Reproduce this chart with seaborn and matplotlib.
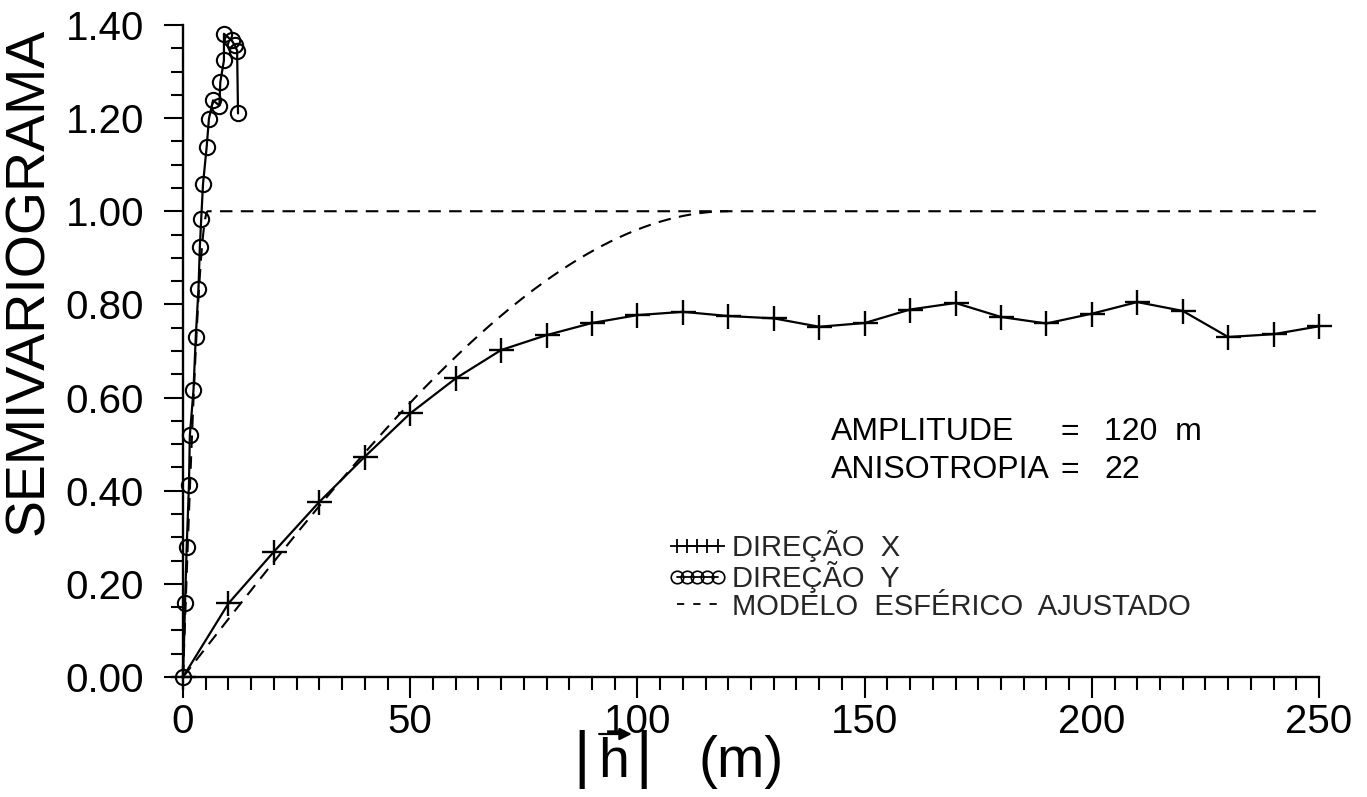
import numpy as np
import pandas as pd
import matplotlib
matplotlib.use("Agg")
import matplotlib.pyplot as plt
from matplotlib.lines import Line2D
from matplotlib.ticker import MultipleLocator, FormatStrFormatter
import seaborn as sns

# Experimental semivariogram, direction X (lag in m)
lag_x = [0, 10, 20, 30, 40, 50, 60, 70, 80, 90, 100, 110, 120, 130, 140,
         150, 160, 170, 180, 190, 200, 210, 220, 230, 240, 250]
gamma_x = [0.0, 0.158, 0.269, 0.376, 0.473, 0.566, 0.641, 0.702, 0.734, 0.760,
           0.777, 0.784, 0.775, 0.770, 0.752, 0.760, 0.789, 0.803, 0.773, 0.759,
           0.780, 0.805, 0.786, 0.730, 0.736, 0.753]

# Experimental semivariogram, direction Y (lag in m)
lag_y = [0.0, 0.44, 0.8, 1.3, 1.5, 2.3, 2.8, 3.4, 3.7, 4.0, 4.4, 5.2, 5.7,
         6.6, 8.0, 8.2, 9.0, 9.0, 10.7, 11.4, 11.9, 12.1]
gamma_y = [0.0, 0.158, 0.278, 0.412, 0.519, 0.616, 0.730, 0.834, 0.923, 0.984,
           1.059, 1.138, 1.199, 1.238, 1.227, 1.277, 1.324, 1.381, 1.367, 1.356,
           1.345, 1.210]

# Fitted spherical model parameters
SILL = 1.0
AMPLITUDE = 120      # range in direction X (m)
ANISOTROPY = 22      # ratio of ranges X / Y

x_ticks = [0, 50, 100, 150, 200, 250]
y_ticks = [0.0, 0.2, 0.4, 0.6, 0.8, 1.0, 1.2, 1.4]


def spherical(h, a, c):
    r = np.clip(h / a, 0, 1)
    return c * (1.5 * r - 0.5 * r ** 3)


sns.set_theme(style="ticks")
FONT = "Liberation Sans"
plt.rcParams["font.family"] = [FONT, "DejaVu Sans"]

fig = plt.figure(figsize=(13.67, 7.97), dpi=100)
ax = fig.add_axes([0.1339, 0.1506, 0.8310, 0.8181])

# Model curves
h_model_x = np.linspace(0, AMPLITUDE, 200)
h_model_y = np.concatenate([np.linspace(0, AMPLITUDE / ANISOTROPY, 60), [250]])
df_mx = pd.DataFrame({"h": h_model_x, "g": spherical(h_model_x, AMPLITUDE, SILL)})
df_my = pd.DataFrame({"h": h_model_y, "g": spherical(h_model_y, AMPLITUDE / ANISOTROPY, SILL)})
for df in (df_mx, df_my):
    sns.lineplot(data=df, x="h", y="g", ax=ax, color="black", lw=1.5,
                 estimator=None, sort=False, legend=False,
                 linestyle=(0, (6, 4)))

# Experimental points
df_x = pd.DataFrame({"h": lag_x, "g": gamma_x})
df_y = pd.DataFrame({"h": lag_y, "g": gamma_y})
sns.lineplot(data=df_x, x="h", y="g", ax=ax, color="black", lw=1.6,
             marker="+", markersize=18, markeredgewidth=1.7,
             markeredgecolor="black", estimator=None, sort=False,
             legend=False, clip_on=False)
sns.lineplot(data=df_y, x="h", y="g", ax=ax, color="black", lw=1.6,
             marker="o", markersize=11, markeredgewidth=1.5,
             markeredgecolor="black", markerfacecolor="none",
             estimator=None, sort=False, legend=False, clip_on=False)

ax.set_xlim(0, 250)
ax.set_ylim(0, 1.40)
ax.set_xticks(x_ticks)
ax.set_yticks(y_ticks)
ax.xaxis.set_minor_locator(MultipleLocator(5))
ax.yaxis.set_minor_locator(MultipleLocator(0.05))
ax.yaxis.set_major_formatter(FormatStrFormatter("%.2f"))
sns.despine(ax=ax)
for side in ("left", "bottom"):
    ax.spines[side].set_linewidth(1.7)
    ax.spines[side].set_color("black")
ax.tick_params(axis="both", which="both", direction="out", color="black",
               width=1.5, labelsize=29, labelcolor="black")
ax.tick_params(axis="x", which="major", length=15, pad=4)
ax.tick_params(axis="x", which="minor", length=9)
ax.tick_params(axis="y", which="major", length=14, pad=14)
ax.tick_params(axis="y", which="minor", length=9)
ax.grid(False)

ax.set_ylabel("SEMIVARIOGRAMA", fontsize=40, color="black", va="center")
ax.yaxis.set_label_coords(-0.136, 0.607)
ax.set_xlabel("")

# Axis title |h| (m), with a vector arrow drawn over the h
BAR_SIZE = 45
XL_SIZE = 40
bar_l = ax.text(0.344, -0.172, "|", transform=ax.transAxes,
                fontsize=BAR_SIZE, va="bottom", ha="left", color="black")
h_txt = ax.annotate("h", xy=(1, 0), xycoords=bar_l, xytext=(6, 0),
                    textcoords="offset points", fontsize=XL_SIZE,
                    va="bottom", ha="left", color="black")
bar_r = ax.annotate("|", xy=(1, 0), xycoords=h_txt, xytext=(4, 0),
                    textcoords="offset points", fontsize=BAR_SIZE,
                    va="bottom", ha="left", color="black")
ax.annotate("(m)", xy=(1, 0), xycoords=bar_r, xytext=(34, 0),
            textcoords="offset points", fontsize=XL_SIZE + 1,
            va="bottom", ha="left", color="black")
ax.annotate("", xy=(1.08, 1.06), xycoords=h_txt, xytext=(0.02, 1.06),
            textcoords=h_txt,
            arrowprops=dict(arrowstyle="-|>", lw=1.6, color="black",
                            mutation_scale=18, shrinkA=0, shrinkB=0))

# Model parameters annotation
for yy, name, val in ((0.375, "AMPLITUDE", f"{AMPLITUDE}  m"),
                      (0.318, "ANISOTROPIA", f"{ANISOTROPY}")):
    ax.text(0.57, yy, name, transform=ax.transAxes, fontsize=23,
            va="center", ha="left", color="black")
    ax.text(0.781, yy, "=", transform=ax.transAxes, fontsize=23,
            va="center", ha="center", color="black")
    ax.text(0.811, yy, val, transform=ax.transAxes, fontsize=23,
            va="center", ha="left", color="black")

handles = [
    Line2D([], [], color="black", lw=1.3, marker="+", markersize=10,
           markeredgewidth=1.3),
    Line2D([], [], color="black", lw=1.3, marker="o", markersize=9,
           markerfacecolor="none", markeredgewidth=1.2),
    Line2D([], [], color="black", lw=1.3, linestyle=(0, (4, 5))),
]
labels = ["DIREÇÃO  X", "DIREÇÃO  Y", "MODELO  ESFÉRICO  AJUSTADO"]
ax.legend(handles, labels, loc="upper left", bbox_to_anchor=(0.427, 0.225),
          frameon=False, fontsize=21, numpoints=5, handlelength=2.0,
          handletextpad=0.2, labelspacing=-0.03, borderpad=0,
          borderaxespad=0)

fig.savefig("out.png", dpi=100, facecolor="white")
